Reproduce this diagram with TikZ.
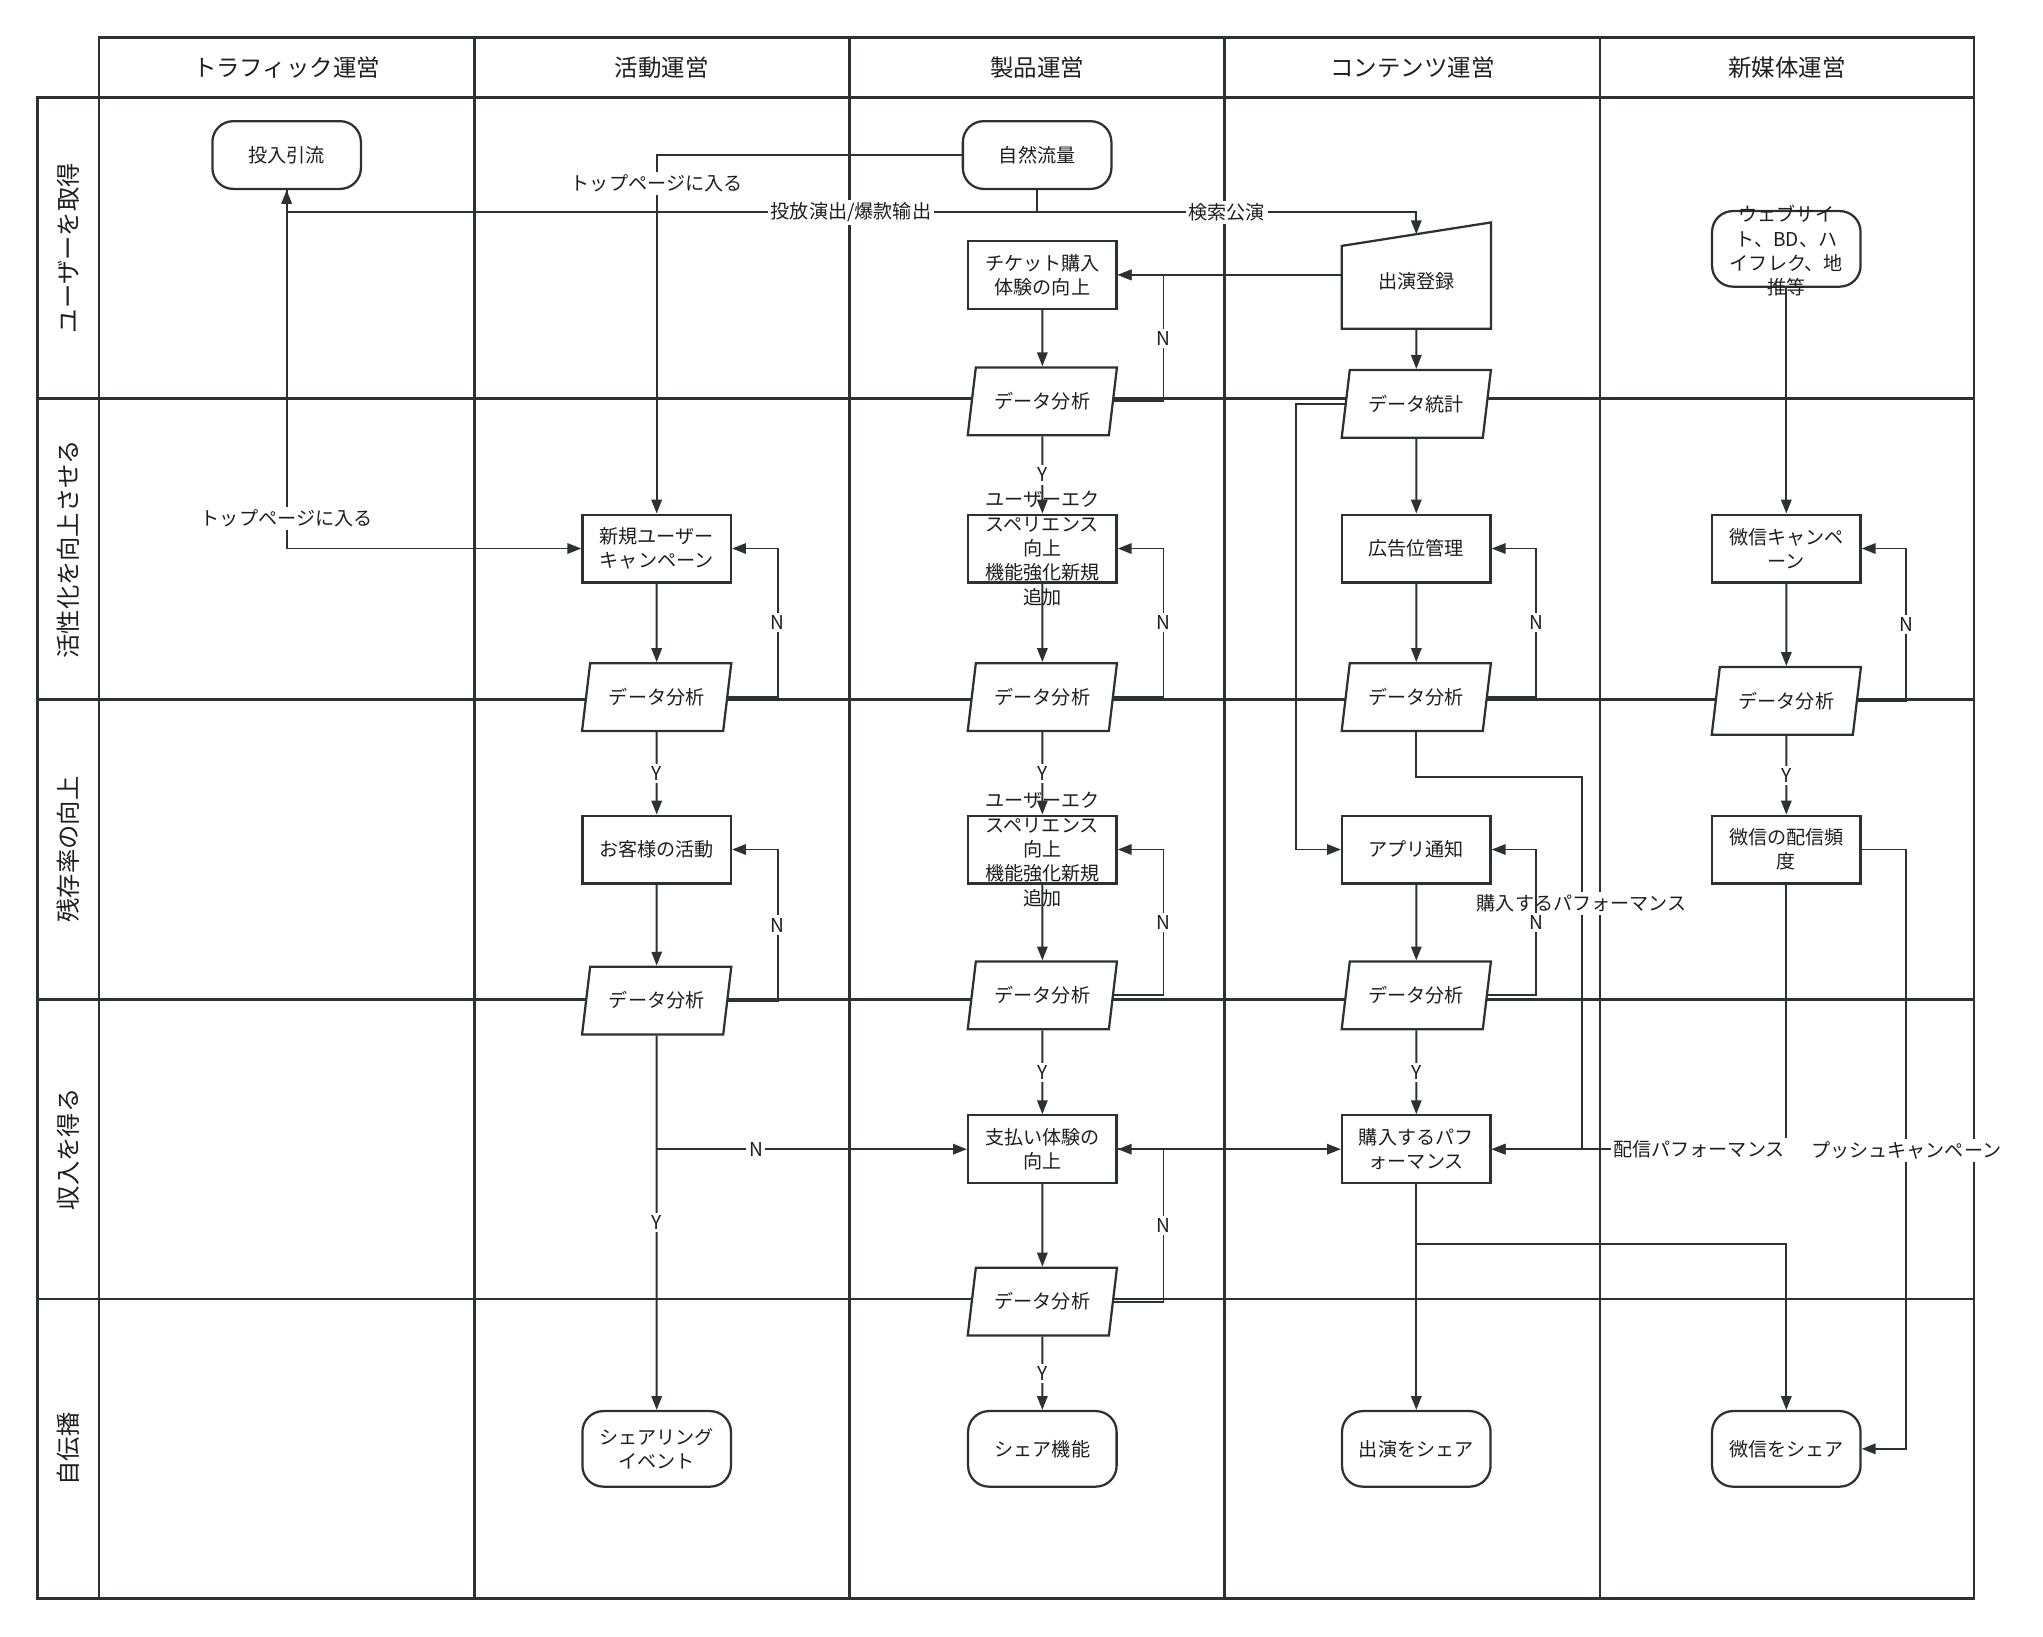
\documentclass[tikz,border=0pt]{standalone}
\usepackage{fontspec}
\setmainfont{Noto Sans CJK JP}
\usetikzlibrary{shapes.geometric,arrows.meta,calc}
\definecolor{lc}{RGB}{45,49,54}
\definecolor{tc}{RGB}{30,30,30}
\newcommand\fntbox{\fontsize{11pt}{14pt}\selectfont}
\newcommand\fntlab{\fontsize{11pt}{14pt}\selectfont}
\newcommand\fnthd{\fontsize{13.5pt}{16pt}\selectfont}
\newcommand\fntrow{\fontsize{14pt}{16pt}\selectfont}
\begin{document}
\begin{tikzpicture}[x=0.75pt,y=-0.75pt,
  lane/.style={draw=lc,line width=1.5pt},
  box/.style={draw=lc,line width=1.3pt,fill=white,minimum width=85.5pt,minimum height=39pt,inner sep=0pt,align=center,font=\fntbox,text=tc},
  term/.style={box,rounded corners=12pt},
  para/.style={box,trapezium,trapezium left angle=72,trapezium right angle=108,trapezium stretches=true,minimum width=86pt,minimum height=39pt},
  conn/.style={draw=lc,line width=1.1pt,-{Triangle[length=8pt,width=6pt]}},
  plain/.style={draw=lc,line width=1.1pt},
  elab/.style={fill=white,inner sep=1.5pt,font=\fntlab,text=tc},
  ovl/.style={align=center,font=\fntbox,text=tc,inner sep=0pt},
  hd/.style={font=\fnthd,text=tc},
  rl/.style={font=\fntrow,text=tc,rotate=90},
]
\useasboundingbox (0,0) rectangle (1568,1256);
% lanes
\draw[lane] (76,29) rectangle (1515,1227);
\draw[lane] (29,75) rectangle (76,1227);
\foreach \yy in {75,306,537,767,997} \draw[lane] (29,\yy) -- (1515,\yy);
\foreach \xx in {364,652,940,1228} \draw[lane] (\xx,29) -- (\xx,1227);
\node[hd] (h1) at (220,52) {トラフィック運営};
\node[hd] (h2) at (508,52) {活動運営};
\node[hd] (h3) at (796,52) {製品運営};
\node[hd] (h4) at (1084,52) {コンテンツ運営};
\node[hd] (h5) at (1371.5,52) {新媒体運営};
\node[rl] (r1) at (52.5,190.5) {ユーザーを取得};
\node[rl] (r2) at (52.5,421.5) {活性化を向上させる};
\node[rl] (r3) at (52.5,652) {残存率の向上};
\node[rl] (r4) at (52.5,882) {収入を得る};
\node[rl] (r5) at (52.5,1112) {自伝播};

% helper coordinates
\coordinate (Lact) at (597,0);
\coordinate (Lpro) at (893,0);
\coordinate (Lcon) at (1179,0);
\coordinate (Lmed) at (1463,0);
\coordinate (Lcl) at (995,0);
\coordinate (j1) at (796,163);
\coordinate (k1) at (1214,596);
\coordinate (k2) at (1087,955);

% nodes (row 1)
\node[term] (inv) at (220,119) {投入引流};
\node[term] (nat) at (796,119) {自然流量};
\node[box] (tkt) at (800,211) {チケット購入\\体験の向上};
\node[minimum width=85.5pt,minimum height=54pt,inner sep=0pt,font=\fntbox,text=tc] (reg) at (1087,216) {出演登録};
\node[term,minimum height=43.5pt] (web) at (1371,191) {};
\node[para] (d1) at (800,308) {データ分析};
\node[para] (dst) at (1087,310) {データ統計};
% row 2
\node[box] (new) at (504,421) {新規ユーザー\\キャンペーン};
\node[box] (ux1) at (800,421) {};
\node[box] (ad) at (1087,421) {広告位管理};
\node[box] (wc) at (1371,421) {微信キャンペ\\ーン};
\node[para] (d2a) at (504,535) {データ分析};
\node[para] (d2b) at (800,535) {データ分析};
\node[para] (d2c) at (1087,535) {データ分析};
\node[para] (d2d) at (1371,538) {データ分析};
% row 3
\node[box] (gst) at (504,652) {お客様の活動};
\node[box] (ux2) at (800,652) {};
\node[box] (app) at (1087,652) {アプリ通知};
\node[box] (wf) at (1371,652) {微信の配信頻\\度};
\node[para] (d3a) at (504,768) {データ分析};
\node[para] (d3b) at (800,764) {データ分析};
\node[para] (d3c) at (1087,764) {データ分析};
% row 4
\node[box] (pay) at (800,882) {支払い体験の\\向上};
\node[box] (buy) at (1087,882) {購入するパフ\\ォーマンス};
\node[para] (d4) at (800,999) {データ分析};
% row 5
\node[term,minimum height=43.5pt] (s1) at (504,1112) {シェアリング\\イベント};
\node[term,minimum height=43.5pt] (s2) at (800,1112) {シェア機能};
\node[term,minimum height=43.5pt] (s3) at (1087,1112) {出演をシェア};
\node[term,minimum height=43.5pt] (s4) at (1371,1112) {微信をシェア};

% connectors
\draw[conn] (nat.west) -| node[elab,pos=0.54]{トップページに入る} (new.north);
\draw[plain] (nat.south) -- (j1);
\draw[conn] (j1) -- node[elab,pos=0.248]{投放演出/爆款输出} (j1 -| inv) -- (inv.south);
\draw[conn] (j1) -- node[elab]{検索公演} (j1 -| reg) -- (reg.north);
\draw[conn] (inv.south) |- node[elab,pos=0.458]{トップページに入る} (new.west);
\draw[conn] (tkt.east -| reg.west) -- (tkt.east);
\draw[conn] (tkt.south) -- (d1.north);
\draw[conn] (d1.east) -- (d1.east -| Lpro) |- node[elab,pos=0.25]{N} (tkt.east);
\draw[conn] (d1.south) -- node[elab]{Y} (ux1.north);
\draw[conn] (reg.south) -- (dst.north);
\draw[conn] (dst.south) -- (ad.north);
\draw[conn] (dst.west) -- (dst.west -| Lcl) |- (app.west);
\draw[conn] (web.south) -- (wc.north);
% row 2
\draw[conn] (new.south) -- (d2a.north);
\draw[conn] (d2a.east) -- (d2a.east -| Lact) |- node[elab,pos=0.25]{N} (new.east);
\draw[conn] (ux1.south) -- (d2b.north);
\draw[conn] (d2b.east) -- (d2b.east -| Lpro) |- node[elab,pos=0.25]{N} (ux1.east);
\draw[conn] (ad.south) -- (d2c.north);
\draw[conn] (d2c.east) -- (d2c.east -| Lcon) |- node[elab,pos=0.25]{N} (ad.east);
\draw[conn] (wc.south) -- (d2d.north);
\draw[conn] (d2d.east) -- (d2d.east -| Lmed) |- node[elab,pos=0.25]{N} (wc.east);
\draw[conn] (d2a.south) -- node[elab]{Y} (gst.north);
\draw[conn] (d2b.south) -- node[elab]{Y} (ux2.north);
\draw[conn] (d2d.south) -- node[elab]{Y} (wf.north);
\draw[conn] (d2c.south) |- (k1) |- node[elab,pos=0.17]{購入するパフォーマンス} (buy.east);
% row 3
\draw[conn] (gst.south) -- (d3a.north);
\draw[conn] (d3a.east) -- (d3a.east -| Lact) |- node[elab,pos=0.25]{N} (gst.east);
\draw[conn] (ux2.south) -- (d3b.north);
\draw[conn] (d3b.east) -- (d3b.east -| Lpro) |- node[elab,pos=0.25]{N} (ux2.east);
\draw[conn] (app.south) -- (d3c.north);
\draw[conn] (d3c.east) -- (d3c.east -| Lcon) |- node[elab,pos=0.25]{N} (app.east);
\draw[conn] (wf.south) |- node[elab,pos=0.648]{配信パフォーマンス} (buy.east);
\draw[conn] (wf.east) -- (wf.east -| Lmed) |- node[elab,pos=0.251]{プッシュキャンペーン} (s4.east);
% row 4
\draw[conn] (d3a.south) -- node[elab]{Y} (s1.north);
\draw[conn] (d3a.south |- pay.west) -- node[elab,pos=0.32]{N} (pay.west);
\draw[conn] (d3b.south) -- node[elab]{Y} (pay.north);
\draw[conn] (d3c.south) -- node[elab]{Y} (buy.north);
\draw[conn] (pay.east) -- (buy.west);
\draw[conn] (pay.south) -- (d4.north);
\draw[conn] (d4.east) -- (d4.east -| Lpro) |- node[elab,pos=0.25]{N} (pay.east);
\draw[conn] (d4.south) -- node[elab]{Y} (s2.north);
\draw[conn] (buy.south) -- (s3.north);
\draw[conn] (k2) -| (s4.north);

% manual input shape
\draw[draw=lc,line width=1.3pt,fill=white] (reg.south west) -- (reg.south east) -- ([yshift=6.75pt]reg.north east) -- ([yshift=-6.75pt]reg.north west) -- cycle;
\node[ovl] (regt) at (reg) {出演登録};
% overflowing texts
\node[ovl] (webt) at (1371,192.5) {ウェブサイ\\ト、BD、ハ\\イフレク、地\\推等};
\node[ovl] (ux1t) at (ux1) {ユーザーエク\\スペリエンス\\向上\\機能強化新規\\追加};
\node[ovl] (ux2t) at (ux2) {ユーザーエク\\スペリエンス\\向上\\機能強化新規\\追加};
\end{tikzpicture}
\end{document}
